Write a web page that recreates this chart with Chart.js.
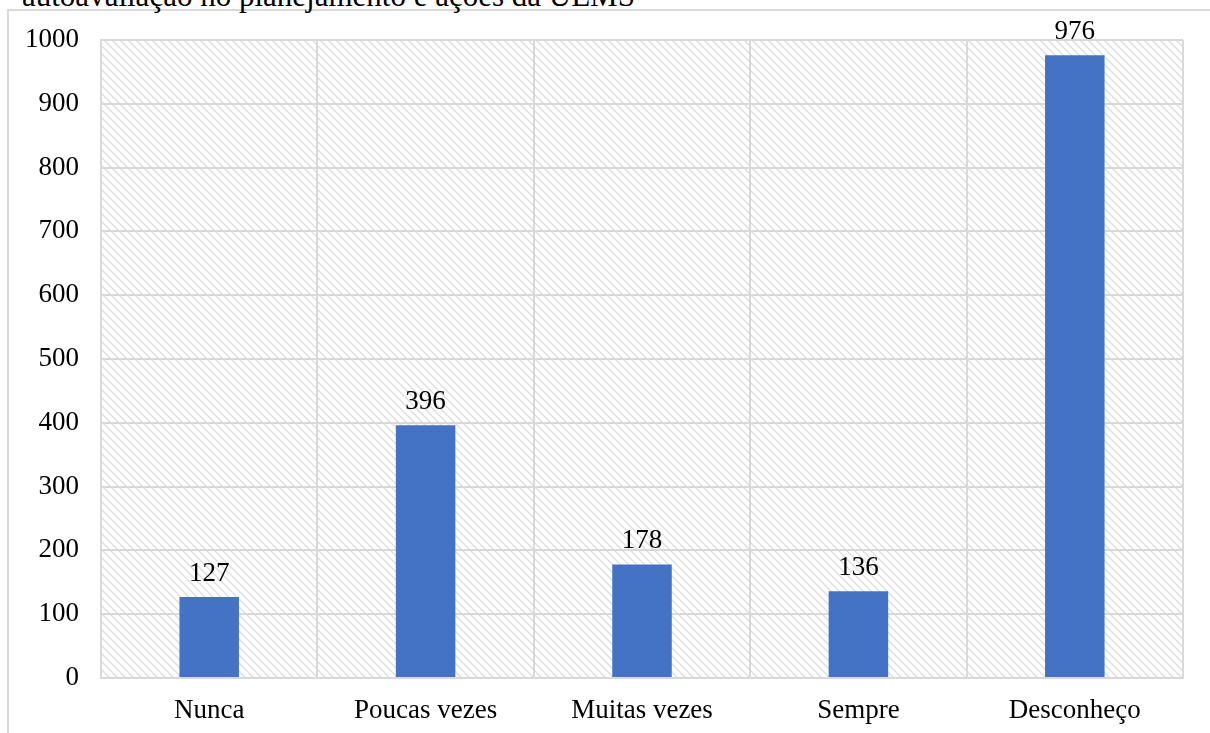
<!DOCTYPE html>
<html>
<head>
<meta charset="utf-8">
<script src="https://cdn.jsdelivr.net/npm/chart.js@4.4.1/dist/chart.umd.min.js"></script>
<style>
  html, body { margin: 0; padding: 0; background: #fff; overflow: hidden; }
  body { width: 1210px; height: 733px; position: relative; }
  #frame { position: absolute; left: 7px; top: 9px; width: 1300px; height: 800px;
           border-left: 2px solid #d9d9d9; border-top: 2px solid #d9d9d9; }
  #titulo { position: absolute; left: 22px; top: -20px; font: 31px "Liberation Serif", "Times New Roman", serif;
            line-height: 1; color: #000; white-space: nowrap; }
  #grafico { position: absolute; left: 0; top: 0; }
</style>
</head>
<body>
<div id="frame"></div>
<div id="titulo">autoavaliação no planejamento e ações da UEMS</div>
<canvas id="grafico" width="1210" height="733"></canvas>
<script>
// categorias e valores
const categorias = ['Nunca', 'Poucas vezes', 'Muitas vezes', 'Sempre', 'Desconheço'];
const respostas = [127, 396, 178, 136, 976];
const yTicks = [0, 100, 200, 300, 400, 500, 600, 700, 800, 900, 1000];

const fonte = { family: '"Liberation Serif", "Times New Roman", serif', size: 27 };

// padrão hachurado do fundo da área de plotagem
function criarHachura() {
    const c = document.createElement('canvas');
    c.width = 8; c.height = 8;
    const g = c.getContext('2d');
    g.strokeStyle = '#dedede';
    g.lineWidth = 1.4;
    g.beginPath();
    g.moveTo(-2, -2); g.lineTo(10, 10);
    g.moveTo(-2, 6); g.lineTo(2, 10);
    g.moveTo(6, -2); g.lineTo(10, 2);
    g.stroke();
    return c;
}

const fundoHachurado = {
    id: 'fundoHachurado',
    beforeDraw(chart) {
        const { ctx, chartArea: a } = chart;
        ctx.save();
        ctx.fillStyle = ctx.createPattern(criarHachura(), 'repeat');
        ctx.fillRect(a.left, a.top, a.right - a.left, a.bottom - a.top);
        ctx.restore();
    }
};

const rotulos = {
    id: 'rotulos',
    afterDatasetsDraw(chart) {
        const ctx = chart.ctx;
        const meta = chart.getDatasetMeta(0);
        ctx.save();
        ctx.font = fonte.size + 'px ' + fonte.family;
        ctx.fillStyle = '#000';
        ctx.textAlign = 'center';
        ctx.textBaseline = 'alphabetic';
        meta.data.forEach((bar, i) => {
            ctx.fillText(respostas[i], bar.x, bar.y - 16);
        });
        ctx.restore();
    }
};

new Chart(document.getElementById('grafico'), {
    type: 'bar',
    data: {
        labels: categorias,
        datasets: [{
            data: respostas,
            backgroundColor: '#4472c4',
            barPercentage: 0.55,
            categoryPercentage: 0.5
        }]
    },
    options: {
        responsive: false,
        animation: false,
        layout: { padding: { top: 40, right: 27, left: 0, bottom: 0 } },
        plugins: {
            legend: { display: false },
            tooltip: { enabled: false }
        },
        scales: {
            x: {
                afterFit(s) { s.height = 55; },
                grid: { color: '#d9d9d9', lineWidth: 2, drawTicks: false },
                border: { color: '#d9d9d9', width: 2 },
                ticks: { color: '#000', font: fonte, padding: 17 }
            },
            y: {
                min: 0,
                max: 1000,
                afterFit(s) { s.width = 101; },
                afterBuildTicks(s) { s.ticks = yTicks.map(v => ({ value: v })); },
                grid: { color: '#d9d9d9', lineWidth: 2, drawTicks: false },
                border: { color: '#d9d9d9', width: 2 },
                ticks: { color: '#000', font: fonte, padding: 22, callback: v => String(v) }
            }
        }
    },
    plugins: [fundoHachurado, rotulos]
});
</script>
</body>
</html>
